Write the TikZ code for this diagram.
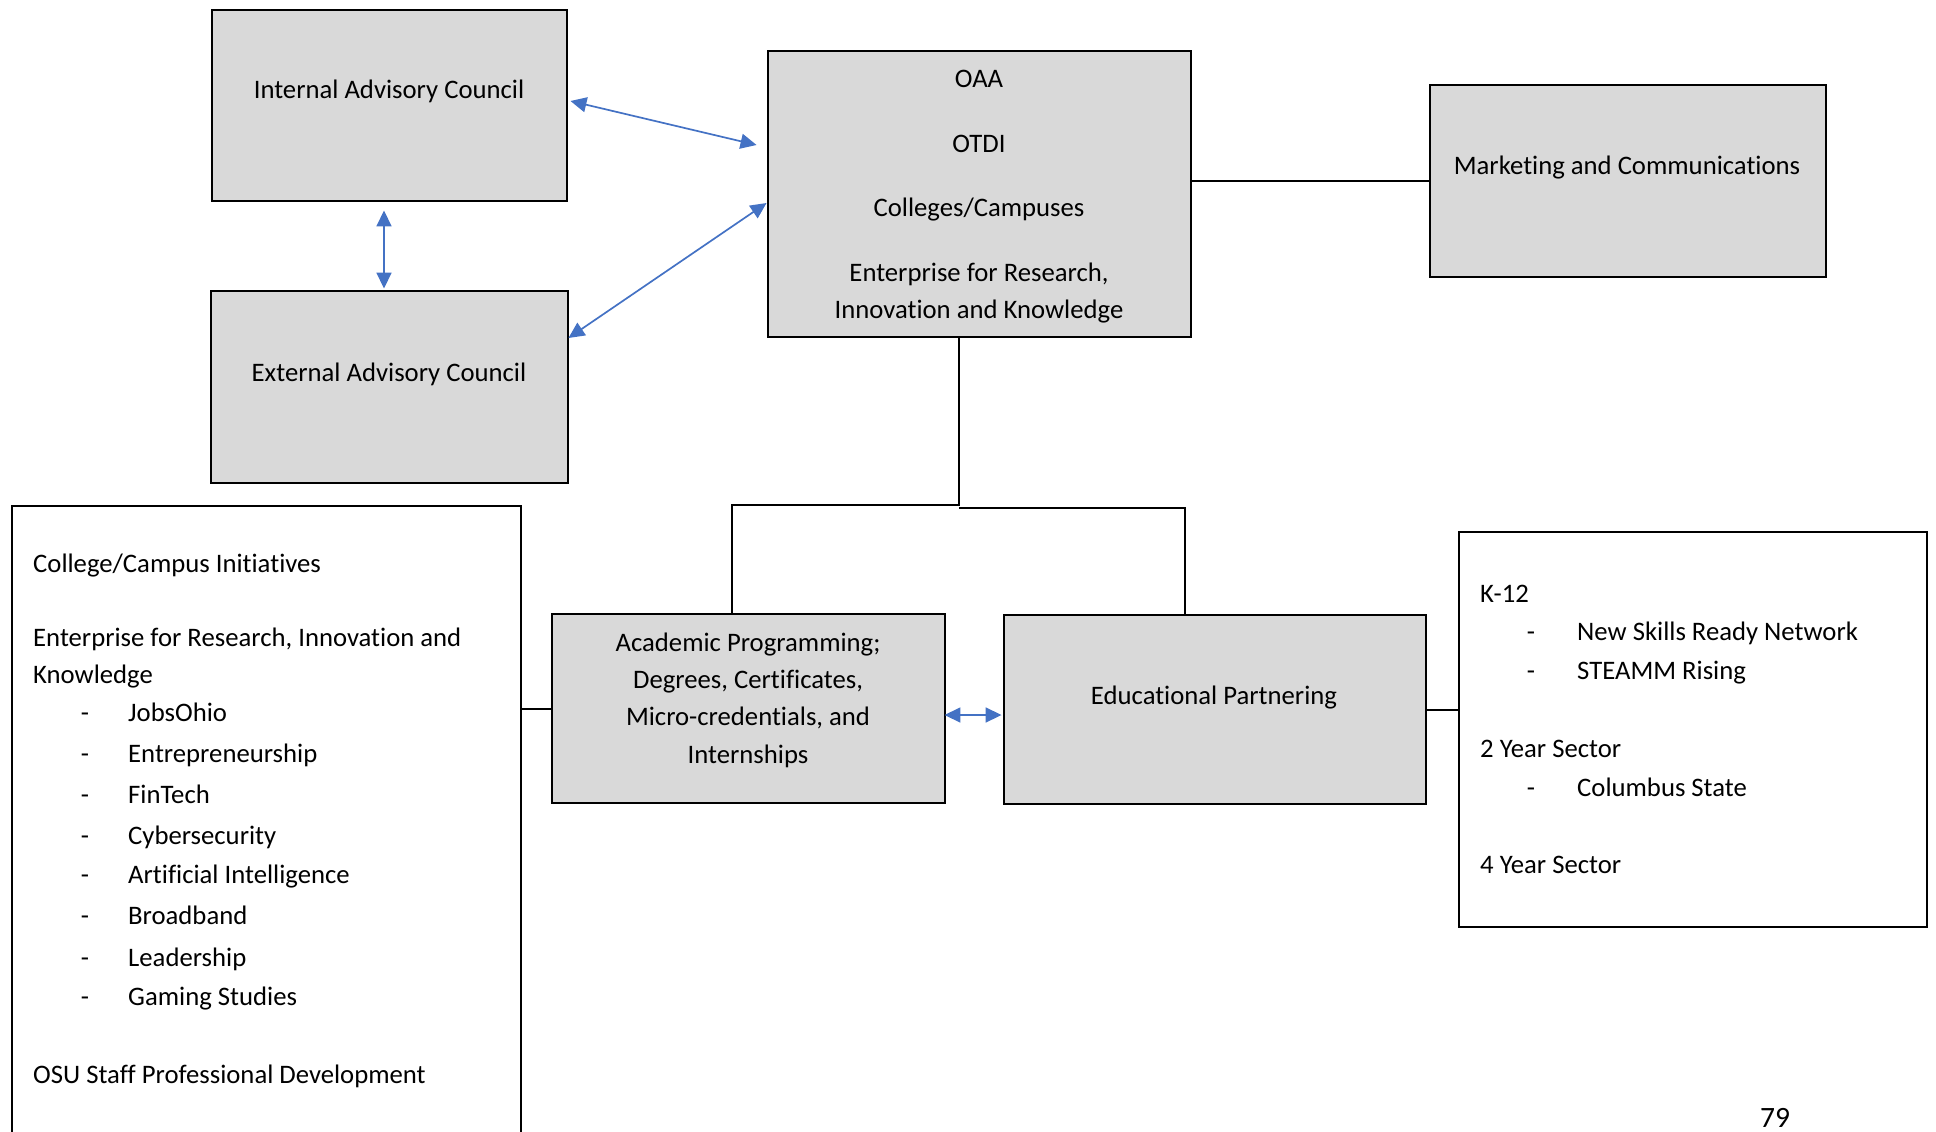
\documentclass[tikz,border=0pt]{standalone}
\usepackage{fontspec}
\setmainfont{Carlito}[Ligatures={NoCommon}]
\usetikzlibrary{arrows.meta}
\definecolor{boxgray}{HTML}{D9D9D9}
\definecolor{arrowblue}{HTML}{4472C4}
\tikzset{
  box/.style={draw=black, line width=2.9pt, fill=boxgray, inner sep=0pt},
  wbox/.style={draw=black, line width=2.9pt, fill=white, inner sep=0pt},
  conn/.style={draw=black, line width=2pt},
  barrow/.style={draw=arrowblue, line width=1.7pt, {Triangle[length=16pt,width=15pt]}-{Triangle[length=16pt,width=15pt]}},
  txt/.style={anchor=base, inner sep=0pt, font=\fontsize{26.7}{37}\selectfont},
  ltxt/.style={anchor=base west, inner sep=0pt, font=\fontsize{26.7}{37}\selectfont},
}
\begin{document}
\begin{tikzpicture}[x=1pt,y=-1pt]
\useasboundingbox (0,0) rectangle (1936,1132);
\clip (0,0) rectangle (1936,1132);
% boxes
\node[box, minimum width=355pt, minimum height=191pt] (IAC) at (389.5,105.5) {};
\node[box, minimum width=357pt, minimum height=192pt] (EAC) at (389.5,387) {};
\node[box, minimum width=423pt, minimum height=286pt] (OAA) at (979.5,194) {};
\node[box, minimum width=396pt, minimum height=192pt] (MKT) at (1628,181) {};
\node[wbox, minimum width=509pt, minimum height=660pt] (LEFT) at (266.5,836) {};
\node[box, minimum width=393pt, minimum height=189pt] (ACAD) at (748.5,708.5) {};
\node[box, minimum width=422pt, minimum height=189pt] (EDU) at (1215,709.5) {};
\node[wbox, minimum width=468pt, minimum height=395pt] (RIGHT) at (1693,729.5) {};
% texts
\node[txt] (tIAC) at (389,99) {Internal Advisory Council};
\node[txt] (tEAC) at (389,381) {External Advisory Council};
\node[txt] (tOAA1) at (979,88) {OAA};
\node[txt] (tOAA2) at (979,152) {OTDI};
\node[txt] (tOAA3) at (979,216) {Colleges/Campuses};
\node[txt] (tOAA4) at (979,281) {Enterprise for Research,};
\node[txt] (tOAA5) at (979,318) {Innovation and Knowledge};
\node[txt] (tMKT) at (1627,174) {Marketing and Communications};
\node[txt] (tA1) at (748,651) {Academic Programming;};
\node[txt] (tA2) at (748,688) {Degrees, Certificates,};
\node[txt] (tA3) at (748,725) {Micro-credentials, and};
\node[txt] (tA4) at (748,763) {Internships};
\node[txt] (tEDU) at (1214,704) {Educational Partnering};
% left box text
\node[ltxt] (tL1) at (33,572) {College/Campus Initiatives};
\node[ltxt] (tL2) at (33,646) {Enterprise for Research, Innovation and};
\node[ltxt] (tL3) at (33,683) {Knowledge};
\foreach \y/\t [count=\i] in {721/JobsOhio,762/Entrepreneurship,803/FinTech,844/Cybersecurity,883/Artificial Intelligence,924/Broadband,966/Leadership,1005/Gaming Studies}{
  \node[txt] (dL\i) at (85,\y) {-};
  \node[ltxt] (iL\i) at (128,\y) {\t};
}
\node[ltxt] (tL4) at (33,1083) {OSU Staff Professional Development};
% right box text
\node[ltxt] (tR1) at (1480,602) {K-12};
\node[txt] (dR1) at (1531,640) {-};
\node[ltxt] (tR2) at (1577,640) {New Skills Ready Network};
\node[txt] (dR2) at (1531,679) {-};
\node[ltxt] (tR3) at (1577,679) {STEAMM Rising};
\node[ltxt] (tR4) at (1480,757) {2 Year Sector};
\node[txt] (dR3) at (1531,796) {-};
\node[ltxt] (tR5) at (1577,796) {Columbus State};
\node[ltxt] (tR6) at (1480,873) {4 Year Sector};
\node[txt, font=\fontsize{29.5}{35}\selectfont] (pg) at (1775,1127) {79};
% black connectors
\draw[conn] (OAA.east |- MKT.west) -- (MKT.west);
\coordinate (j) at (959,506);
\coordinate (jl) at (732,505);
\coordinate (jr) at (1185,508);
\draw[conn] (OAA.south -| j) -- (j);
\draw[conn] (j |- jl) -- (jl) -- (ACAD.north -| jl);
\draw[conn] (j |- jr) -- (jr) -- (EDU.north -| jr);
\draw[conn] (ACAD.west -| LEFT.east) -- (ACAD.west);
\draw[conn] (EDU.east) -- (EDU.east -| RIGHT.west);
% blue arrows
\draw[barrow] ([shift={(2,-4.5)}]IAC.east) -- ([shift={(-10,-49)}]OAA.west);
\draw[barrow] ([shift={(-1,-49)}]EAC.east) -- ([shift={(0,9)}]OAA.west);
\draw[barrow] ([shift={(-5.5,8)}]IAC.south) -- ([shift={(-5.5,-1)}]EAC.north);
\draw[barrow] ([shift={(-2,6.5)}]ACAD.east) -- ([shift={(-1,5.5)}]EDU.west);
\end{tikzpicture}
\end{document}
